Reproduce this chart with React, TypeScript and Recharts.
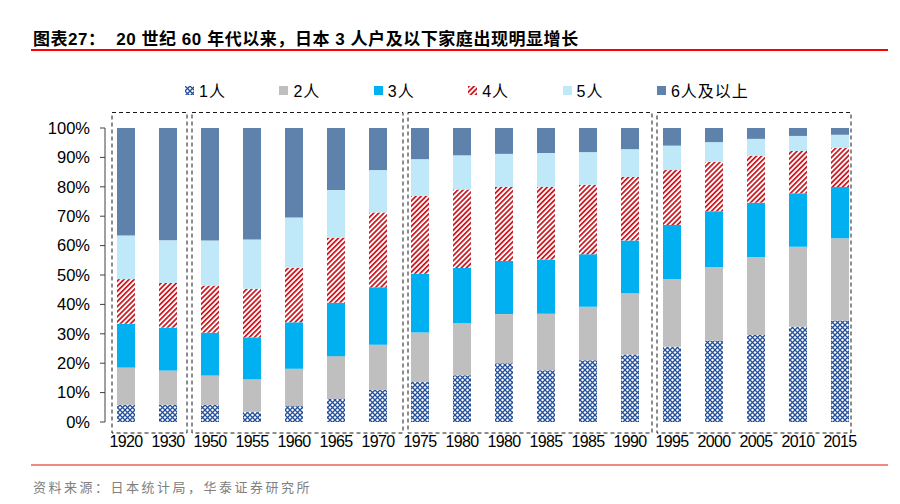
import React from 'react';
import { BarChart, Bar, XAxis, YAxis, ReferenceArea } from 'recharts';

// survey years (1980 and 1985 appear twice in the source table)
const years = ['1920', '1930', '1950', '1955', '1960', '1965', '1970', '1975', '1980', '1980', '1985', '1985', '1990', '1995', '2000', '2005', '2010', '2015'];

// household share by size, %
const one = [5.8, 5.8, 5.8, 3.5, 5.4, 8.0, 10.9, 13.6, 15.9, 20.0, 17.6, 21.0, 23.0, 25.6, 27.7, 29.6, 32.4, 34.5];
const two = [12.7, 11.7, 10.0, 11.0, 12.7, 14.4, 15.4, 16.8, 17.7, 16.7, 19.2, 18.2, 20.8, 23.0, 25.0, 26.5, 27.2, 28.0];
const three = [14.9, 14.6, 14.6, 14.3, 15.8, 18.2, 19.5, 20.0, 18.8, 18.1, 18.5, 17.9, 17.9, 18.4, 19.0, 18.5, 18.2, 17.4];
const four = [15.2, 15.2, 16.0, 16.5, 18.6, 22.1, 25.5, 26.5, 26.7, 25.2, 24.7, 23.6, 21.7, 18.7, 16.8, 16.0, 14.4, 13.4];
const five = [14.8, 14.5, 15.3, 16.8, 17.1, 16.2, 14.4, 12.5, 11.6, 11.2, 11.5, 11.1, 9.4, 8.3, 6.7, 5.7, 5.1, 4.4];
const sixPlus = [36.6, 38.2, 38.3, 37.9, 30.4, 21.1, 14.3, 10.6, 9.3, 8.8, 8.5, 8.2, 7.2, 6.0, 4.8, 3.7, 2.7, 2.3];

const yTicks = [0, 10, 20, 30, 40, 50, 60, 70, 80, 90, 100];

const series = [
  { key: 'one', name: '1人', fill: 'url(#patOne)' },
  { key: 'two', name: '2人', fill: '#bfbfbf' },
  { key: 'three', name: '3人', fill: '#00b0f0' },
  { key: 'four', name: '4人', fill: 'url(#patFour)' },
  { key: 'five', name: '5人', fill: '#bfe9f8' },
  { key: 'six', name: '6人及以上', fill: '#5f82ac' },
];

// dashed boxes around the survey periods (first/last column index),
// pads are relative to the outer band edges
const groups = [
  { from: 0, to: 1, padL: -7, padR: -2 },
  { from: 2, to: 6, padL: -3, padR: 4 },
  { from: 7, to: 12, padL: -9, padR: 1 },
  { from: 13, to: 17, padL: -6, padR: -10 },
];

const data = years.map((year, i) => ({
  id: 'c' + i,
  year,
  one: one[i],
  two: two[i],
  three: three[i],
  four: four[i],
  five: five[i],
  six: sixPlus[i],
}));

const yearOf: Record<string, string> = {};
data.forEach(d => { yearOf[d.id] = d.year; });

const boundaries = Array.from({ length: years.length + 1 }, (_, i) => i);

const FONT = '"Liberation Sans", Arial, "Noto Sans CJK SC", sans-serif';

const makeBox = (padL: number, padR: number) => (props: any) => {
  const { x, y, width, height } = props;
  return (
    <rect
      x={x - padL}
      y={y - 15.5}
      width={width + padL + padR}
      height={height + 26.5}
      fill="none"
      stroke="#1a1a1a"
      strokeWidth={1}
      strokeDasharray="4 3"
    />
  );
};

const Patterns = () => (
  <defs>
    <pattern id="patOne" width="5" height="5" patternUnits="userSpaceOnUse">
      <rect width="5" height="5" fill="#ffffff" />
      <path d="M0 0 L5 5 M5 0 L0 5" stroke="#24509a" strokeWidth="1.3" />
    </pattern>
    <pattern id="patFour" width="3.6" height="10" patternUnits="userSpaceOnUse" patternTransform="rotate(45)">
      <rect width="3.6" height="10" fill="#ffffff" />
      <rect width="1.7" height="10" fill="#c8121b" />
    </pattern>
  </defs>
);

const Legend = () => (
  <div style={{ position: 'absolute', left: 185, top: 78, display: 'flex', fontFamily: FONT, fontSize: 16, letterSpacing: 1, color: '#000' }}>
    {series.map(s => (
      <div key={s.key} style={{ width: 94.4, display: 'flex', alignItems: 'center' }}>
        <svg width={9} height={9} style={{ marginRight: 5 }}>
          <rect width={9} height={9} fill={s.fill} />
        </svg>
        <span>{s.name}</span>
      </div>
    ))}
  </div>
);

export default function App() {
  return (
    <div style={{ position: 'absolute', left: 0, top: 0, width: 900, height: 504, background: '#fff', overflow: 'hidden' }}>
      <div style={{ position: 'absolute', left: 33, top: 25, fontFamily: FONT, fontWeight: 700, fontSize: 17, letterSpacing: 0.55, whiteSpace: 'pre', color: '#000' }}>
        {'图表27：  20 世纪 60 年代以来，日本 3 人户及以下家庭出现明显增长'}
      </div>
      <div style={{ position: 'absolute', left: 31, top: 49, width: 857, height: 2, background: '#ff0000' }} />

      <div style={{ position: 'absolute', left: 0, top: 0 }}>
        <BarChart width={900} height={504} data={data} margin={{ top: 128, right: 39, bottom: 52, left: 45 }}>
          <Patterns />
          <XAxis
            xAxisId="grid"
            type="number"
            domain={[0, years.length]}
            ticks={boundaries}
            height={0}
            tickSize={5}
            tick={false}
            axisLine={{ stroke: '#404040' }}
            tickLine={{ stroke: '#404040' }}
          />
          <XAxis
            xAxisId="cat"
            dataKey="id"
            type="category"
            height={30}
            axisLine={false}
            tickLine={false}
            tickMargin={8}
            interval={0}
            tickFormatter={(v: string) => yearOf[v]}
            tick={{ fill: '#000', fontSize: 16, fontFamily: FONT, letterSpacing: -0.6 }}
          />
          <YAxis
            width={60}
            domain={[0, 100]}
            ticks={yTicks}
            allowDataOverflow
            tickSize={5}
            tickMargin={10}
            interval={0}
            tickFormatter={(v: number) => v + '%'}
            axisLine={{ stroke: '#404040' }}
            tickLine={{ stroke: '#404040' }}
            tick={{ fill: '#000', fontSize: 16.5, fontFamily: FONT }}
          />
          {series.map(s => (
            <Bar key={s.key} xAxisId="cat" dataKey={s.key} name={s.name} stackId="a" fill={s.fill} barSize={18} isAnimationActive={false} />
          ))}
          {groups.map((g, i) => (
            <ReferenceArea
              key={i}
              xAxisId="cat"
              x1={'c' + g.from}
              x2={'c' + g.to}
              y1={0}
              y2={100}
              shape={makeBox(g.padL, g.padR)}
            />
          ))}
        </BarChart>
      </div>

      <Legend />

      <div style={{ position: 'absolute', left: 31, top: 464, width: 857, height: 2, background: '#f08a80' }} />
      <div style={{ position: 'absolute', left: 33, top: 477, fontFamily: '"Noto Sans CJK SC", sans-serif', fontSize: 13, letterSpacing: 2.5, color: '#808080' }}>
        资料来源：日本统计局，华泰证券研究所
      </div>
    </div>
  );
}
